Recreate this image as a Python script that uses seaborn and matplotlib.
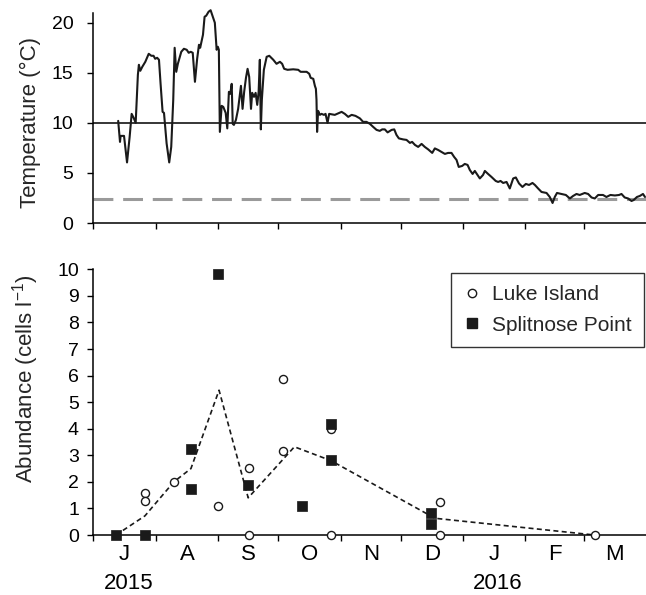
import matplotlib
matplotlib.use("Agg")
import matplotlib.pyplot as plt
import numpy as np
import pandas as pd
import seaborn as sns
from matplotlib.lines import Line2D

# all x values are days counted from 1 July 2015
temp_day = [12.3, 13.2, 13.5, 15.2, 16.7, 18.0, 19.0, 20.0, 21.0, 22.1, 22.6, 23.3, 24.3,
            25.8, 27.5, 28.8, 29.9, 30.7, 31.7, 32.6, 33.4, 34.4, 35.1, 36.4, 37.7, 38.7,
            39.7, 40.4, 41.2, 42.0, 43.7, 45.0, 46.4, 47.4, 48.4, 49.4, 50.5, 51.6, 52.5,
            53.1, 54.5, 55.3, 56.1, 57.3, 58.3, 60.4, 61.3, 61.9, 62.4, 62.9, 63.8, 64.6,
            65.8, 66.6, 67.4, 68.1, 68.8, 69.3, 69.9, 70.9, 72.0, 73.4, 74.2, 75.0, 75.9,
            76.7, 77.5, 78.4, 79.0, 79.9, 80.7, 81.5, 82.2, 82.8, 83.3, 83.8, 84.8, 86.2,
            87.5, 89.5, 91.1, 92.8, 93.9, 94.9, 96.6, 99.4, 101.9, 103.1, 106.1, 107.4,
            108.1, 109.4, 110.2, 110.7, 111.0, 111.3, 111.8, 112.7, 113.5, 114.7, 115.5,
            116.5, 117.3, 120.1, 123.5, 125.1, 126.8, 128.5, 130.4, 132.6, 134.2, 135.9,
            137.6, 139.2, 140.9, 142.5, 143.7, 145.0, 146.4, 148.4, 149.7, 150.8, 152.0,
            154.1, 155.8, 157.5, 158.6, 160.0, 161.6, 163.3, 164.9, 166.6, 168.6, 169.9,
            171.5, 173.2, 174.9, 176.5, 178.2, 179.5, 180.7, 181.8, 183.5, 184.8, 186.2,
            187.3, 188.7, 189.8, 191.1, 192.3, 193.9, 194.8, 196.4, 198.1, 200.2, 201.4,
            202.6, 203.9, 205.6, 207.2, 208.9, 210.2, 211.8, 213.5, 215.2, 216.8, 218.5,
            219.7, 221.3, 223.0, 225.5, 227.1, 228.5, 229.6, 230.7, 232.9, 235.1, 237.1,
            238.7, 240.4, 242.0, 244.5, 246.2, 247.9, 249.5, 251.2, 253.6, 255.3, 257.3,
            259.5, 261.6, 262.8, 264.4, 266.1, 267.8, 268.9, 270.5, 271.9, 273.5, 274.5]
temp_c = [10.2, 8.1, 8.7, 8.7, 6.05, 8.6, 10.9, 10.5, 10.0, 14.8, 15.8, 15.2, 15.6,
          16.1, 16.9, 16.7, 16.7, 16.4, 16.5, 16.3, 13.9, 11.1, 11.0, 7.95, 6.05, 7.6,
          12.3, 17.5, 15.1, 15.9, 17.1, 17.4, 17.3, 17.0, 17.1, 17.0, 14.1, 16.4, 17.8,
          17.5, 18.8, 20.6, 20.7, 21.1, 21.25, 20.0, 17.3, 17.6, 17.3, 9.1, 11.7, 11.6,
          11.0, 9.45, 13.1, 12.9, 13.9, 9.9, 9.8, 10.3, 11.4, 13.7, 11.4, 13.1, 14.5,
          15.4, 14.6, 11.4, 13.0, 12.6, 13.0, 11.8, 13.1, 16.3, 9.35, 12.3, 15.3, 16.6,
          16.7, 16.3, 15.9, 16.1, 15.9, 15.4, 15.3, 15.35, 15.3, 15.1, 15.1, 14.9,
          14.5, 14.4, 13.7, 13.4, 12.3, 9.1, 11.2, 10.8, 10.9, 10.8, 10.9,
          10.0, 10.9, 10.8, 11.1, 10.9, 10.6, 10.8, 10.7, 10.45, 10.1, 10.1,
          9.9, 9.6, 9.3, 9.2, 9.35, 9.35, 9.05, 9.3, 9.35, 8.8, 8.45,
          8.35, 8.3, 8.0, 8.1, 7.8, 7.6, 7.9, 7.6, 7.35, 7.0, 7.45,
          7.3, 7.1, 6.9, 7.0, 7.0, 6.6, 6.3, 5.6, 5.7, 5.9, 5.8,
          5.3, 4.9, 5.2, 4.8, 4.45, 4.8, 5.2, 4.9, 4.6, 4.2, 4.1,
          4.2, 4.0, 4.1, 3.45, 4.45, 4.55, 3.95, 3.6, 3.9, 3.8, 4.0,
          3.8, 3.45, 3.1, 3.0, 2.6, 2.0, 2.6, 3.0, 2.9, 2.8, 2.45,
          2.7, 2.9, 2.8, 3.0, 2.9, 2.55, 2.45, 2.8, 2.8, 2.6, 2.8,
          2.75, 2.8, 2.9, 2.55, 2.45, 2.2, 2.3, 2.6, 2.7, 2.9, 2.6]

temp_threshold = 10
temp_reference = 2.36

luke_day = [25.6, 25.6, 40.0, 62.1, 77.4, 77.4, 94.1, 94.1, 118.2, 118.2, 172.4, 172.4, 249.5]
luke_abund = [1.57, 1.29, 2.01, 1.09, 2.51, 0.0, 5.86, 3.15, 3.98, 0.0, 1.23, 0.0, 0.0]

split_day = [11.2, 25.6, 48.5, 48.5, 62.1, 76.7, 103.6, 118.2, 118.2, 167.9, 167.9]
split_abund = [0.0, 0.0, 3.22, 1.74, 9.82, 1.87, 1.09, 4.18, 2.82, 0.84, 0.40]

mean_day = [11.2, 25.6, 40.0, 48.5, 62.5, 77.0, 100.0, 118.2, 170.0, 249.5]
mean_abund = [0.0, 0.72, 2.0, 2.5, 5.45, 1.4, 3.32, 2.8, 0.63, 0.0]

month_letters = ['J', 'A', 'S', 'O', 'N', 'D', 'J', 'F', 'M']
year_labels = ['2015', '2016']

sns.set_theme(style="ticks")
plt.rcParams['font.family'] = ['Liberation Sans', 'DejaVu Sans']
plt.rcParams['mathtext.fontset'] = 'custom'
plt.rcParams['mathtext.rm'] = 'Liberation Sans'
plt.rcParams['mathtext.it'] = 'Liberation Sans:italic'

# month boundaries in days since 1 July 2015
start = pd.Timestamp('2015-07-01')
month_starts = pd.date_range('2015-07-01', '2016-04-01', freq='MS')
bounds = np.array([(m - start).days for m in month_starts], dtype=float)
mids = (bounds[:-1] + bounds[1:]) / 2

fig = plt.figure(figsize=(6.46, 5.95), dpi=100)
ax1 = fig.add_axes([0.1447, 0.6252, 0.8553, 0.3534])
ax2 = fig.add_axes([0.1447, 0.1008, 0.8553, 0.4466])

# ---- temperature panel
sns.lineplot(x=temp_day, y=temp_c, ax=ax1, color='#1a1a1a', lw=1.5,
             estimator=None, clip_on=False)
ax1.axhline(temp_threshold, color='black', lw=1.1, zorder=1)
ax1.axhline(temp_reference, color='#9a9a9a', lw=2.2, dashes=(6.5, 3.2), zorder=1)
ax1.set_ylim(0, 21)
ax1.set_yticks([0, 5, 10, 15, 20])
ax1.set_ylabel('Temperature (°C)', fontsize=16)
ax1.yaxis.set_label_coords(-0.095, 0.48)

# ---- abundance panel
sns.lineplot(x=mean_day, y=mean_abund, ax=ax2, color='#1a1a1a', lw=1.2,
             estimator=None, linestyle='--')
ax2.lines[-1].set_dashes((3, 2))
sns.scatterplot(x=luke_day, y=luke_abund, ax=ax2, marker='o', s=34,
                facecolor='white', edgecolor='#1a1a1a', linewidth=1.0,
                zorder=3, clip_on=False)
sns.scatterplot(x=split_day, y=split_abund, ax=ax2, marker='s', s=52,
                color='#1a1a1a', edgecolor='#1a1a1a', linewidth=0.5,
                zorder=4, clip_on=False)
ax2.set_ylim(0, 10)
ax2.set_yticks(range(0, 11))
ax2.set_ylabel(r'Abundance (cells l$^{-1}$)', fontsize=16)
ax2.yaxis.set_label_coords(-0.095, 0.587)

handles = [Line2D([], [], marker='o', ls='none', ms=6, mfc='white', mec='#1a1a1a', mew=1.0),
           Line2D([], [], marker='s', ls='none', ms=7, mfc='#1a1a1a', mec='#1a1a1a')]
leg = ax2.legend(handles, ['Luke Island', 'Splitnose Point'], loc='upper right',
                 bbox_to_anchor=(1.0, 0.995), fontsize=15, frameon=True, fancybox=False,
                 edgecolor='black', borderpad=0.6, handlelength=0.8, handletextpad=0.55,
                 labelspacing=0.55, borderaxespad=0.1)
leg.get_frame().set_linewidth(1.0)

for ax, ypad in ((ax1, 10), (ax2, 6)):
    ax.set_xlim(0, bounds[-1])
    ax.set_xticks(bounds[:-1])
    ax.set_xticklabels([])
    ax.tick_params(axis='both', which='major', direction='out', length=4.5, width=1,
                   color='black', labelsize=14, labelcolor='black', pad=6)
    ax.tick_params(axis='y', pad=ypad)
    for s in ('left', 'bottom'):
        ax.spines[s].set_color('black')
        ax.spines[s].set_linewidth(1.1)
    sns.despine(ax=ax)
    ax.set_xlabel('')

ax2.set_xticks(mids, minor=True)
ax2.set_xticklabels(month_letters, minor=True)
ax2.tick_params(axis='x', which='minor', length=0, labelsize=16, pad=6.5, labelcolor='black')

# year labels under the two "J" letters
jan_idx = [i for i, m in enumerate(month_starts[:-1]) if m.month in (7, 1)]
for i, yr in zip(jan_idx, year_labels):
    ax2.text(mids[i] + 1.8, -0.204, yr, transform=ax2.get_xaxis_transform(),
             ha='center', va='baseline', fontsize=16, color='black')

fig.savefig('out.png', dpi=100)
